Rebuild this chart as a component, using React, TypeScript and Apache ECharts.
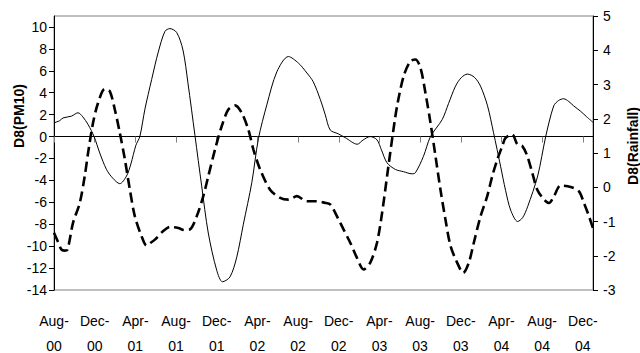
import React, { useEffect, useRef } from 'react';
import * as echarts from 'echarts';

// Month index 0 = Aug-00 ... 53 = Jan-05
const months = [
  'Aug-00', 'Sep-00', 'Oct-00', 'Nov-00', 'Dec-00',
  'Jan-01', 'Feb-01', 'Mar-01', 'Apr-01', 'May-01', 'Jun-01', 'Jul-01', 'Aug-01', 'Sep-01', 'Oct-01', 'Nov-01', 'Dec-01',
  'Jan-02', 'Feb-02', 'Mar-02', 'Apr-02', 'May-02', 'Jun-02', 'Jul-02', 'Aug-02', 'Sep-02', 'Oct-02', 'Nov-02', 'Dec-02',
  'Jan-03', 'Feb-03', 'Mar-03', 'Apr-03', 'May-03', 'Jun-03', 'Jul-03', 'Aug-03', 'Sep-03', 'Oct-03', 'Nov-03', 'Dec-03',
  'Jan-04', 'Feb-04', 'Mar-04', 'Apr-04', 'May-04', 'Jun-04', 'Jul-04', 'Aug-04', 'Sep-04', 'Oct-04', 'Nov-04', 'Dec-04',
  'Jan-05',
];
const labelMonths = [0, 4, 8, 12, 16, 20, 24, 28, 32, 36, 40, 44, 48, 52];

// D8(PM10), left axis: [month index, value]
const pm10 = [
  [0, 1.25], [0.56, 1.45], [0.89, 1.7], [1.71, 1.86], [2.36, 2.17], [2.83, 1.8], [3.35, 1.1], [3.94, 0],
  [4.5, -1.5], [5.16, -3.0], [5.78, -3.8], [6.47, -4.3], [7.13, -3.6], [7.56, -2.5], [8.05, -0.8], [8.44, 0],
  [8.94, 2.5], [9.6, 5.2], [10.25, 7.7], [10.91, 9.6], [11.4, 9.85], [12.06, 9.5], [12.68, 7.9], [13.17, 4.9],
  [13.86, 0.1], [14.52, -4.5], [15.17, -8.8], [16.0, -12.2], [16.57, -13.25], [17.31, -12.8], [17.97, -11.0],
  [18.62, -8.0], [19.45, -4.2], [20.1, -0.2], [20.93, 2.9], [21.91, 5.9], [23.05, 7.3], [24.04, 6.7],
  [24.87, 5.8], [25.49, 5.0], [26.18, 3.4], [26.67, 2.0], [27.16, 0.6], [27.95, 0.25], [28.64, -0.1],
  [29.82, -0.7], [30.41, -0.3], [31.1, 0], [31.76, -0.3], [32.19, -1.2], [32.75, -2.4], [33.57, -3.0],
  [34.35, -3.2], [35.21, -3.4], [35.54, -3.3], [36.33, -1.8], [37.02, 0], [38.17, 1.55], [38.79, 3.0],
  [39.48, 4.6], [40.07, 5.4], [40.66, 5.7], [41.35, 5.4], [41.94, 4.6], [42.63, 2.8], [43.22, 0.35],
  [43.91, -2.7], [44.4, -4.9], [44.9, -6.7], [45.59, -7.75], [46.08, -7.4], [46.57, -6.4], [47.56, -3.6],
  [48.35, 0], [49.14, 2.8], [49.63, 3.3], [50.12, 3.45], [50.62, 3.2], [51.1, 2.8], [51.79, 2.3],
  [52.38, 1.8], [53, 1.3],
];

// D8(Rainfall), right axis: [month index, value]
const rain = [
  [0, -1.33], [0.4, -1.6], [0.73, -1.82], [1.0, -1.85], [1.32, -1.82], [1.87, -1.04], [2.53, -0.46],
  [3.02, 0.32], [3.35, 1.0], [3.84, 1.88], [4.33, 2.46], [5.0, 2.87], [5.49, 2.8], [5.98, 2.27],
  [6.47, 1.59], [6.97, 0.81], [7.46, -0.07], [7.95, -0.85], [8.61, -1.43], [9.1, -1.7], [9.5, -1.62],
  [9.92, -1.53], [10.74, -1.28], [11.4, -1.16], [12.22, -1.19], [12.8, -1.25], [13.37, -1.23],
  [14.03, -0.85], [14.68, -0.26], [15.17, 0.32], [15.83, 1.1], [16.49, 1.78], [17.14, 2.27], [17.8, 2.39],
  [18.46, 2.17], [19.11, 1.68], [19.61, 1.1], [20.27, 0.52], [21.25, -0.07], [22.24, -0.31], [23.05, -0.36],
  [23.88, -0.26], [24.87, -0.41], [25.85, -0.41], [26.6, -0.45], [27.16, -0.5], [27.98, -0.94],
  [28.47, -1.23], [29.13, -1.62], [29.79, -2.06], [30.44, -2.4], [31.1, -2.2], [31.76, -1.62],
  [32.26, -0.75], [32.75, 0.32], [33.24, 1.39], [33.73, 2.36], [34.38, 3.24], [35.04, 3.68], [35.54, 3.73],
  [36.03, 3.49], [36.52, 2.76], [37.02, 1.88], [37.51, 0.91], [38.0, -0.07], [38.49, -0.94], [38.98, -1.7],
  [39.64, -2.2], [40.24, -2.5], [40.79, -2.2], [41.28, -1.62], [41.94, -0.85], [42.6, -0.26], [43.09, 0.32],
  [43.59, 0.81], [44.08, 1.2], [44.4, 1.44], [45.06, 1.54], [45.56, 1.25], [46.05, 1.2], [46.54, 0.91],
  [47.03, 0.42], [47.52, -0.07], [48.18, -0.36], [48.67, -0.46], [49.16, -0.26], [49.82, 0.05],
  [50.8, 0.01], [51.62, -0.12], [52.11, -0.46], [52.61, -0.85], [53, -1.2],
];

const leftTicks = [-14, -12, -10, -8, -6, -4, -2, 0, 2, 4, 6, 8, 10];

const FONT = 'Liberation Sans, Arial, sans-serif';

const monthLabel = (v: number) => {
  if (v % 4 !== 0 || v > 52) return '';
  const m = months[v];
  return m ? m.replace('-', '-\n') : '';
};

export default function App() {
  const ref = useRef<HTMLDivElement>(null);

  useEffect(() => {
    if (!ref.current) return;
    const chart = echarts.init(ref.current, undefined, { renderer: 'svg' });
    chart.setOption({
      animation: false,
      backgroundColor: '#ffffff',
      textStyle: { fontFamily: FONT },
      grid: {
        left: 54,
        right: 47,
        top: 16,
        bottom: 63,
        containLabel: false,
        outerBoundsMode: 'none',
        show: true,
        borderColor: '#808080',
        borderWidth: 1,
        backgroundColor: 'transparent',
      },
      xAxis: [
        {
          type: 'value',
          min: 0,
          max: 53,
          interval: 4,
          position: 'bottom',
          axisLine: { show: false, onZero: false },
          axisTick: { show: false },
          splitLine: { show: false },
          axisLabel: {
            customValues: labelMonths,
            formatter: monthLabel,
            fontSize: 14,
            lineHeight: 25,
            margin: 18,
            color: '#000',
            fontFamily: FONT,
            showMinLabel: true,
            showMaxLabel: true,
          },
        },
        {
          type: 'value',
          min: 0,
          max: 53,
          interval: 4,
          position: 'bottom',
          axisLine: {
            show: true,
            onZero: true,
            onZeroAxisIndex: 0,
            lineStyle: { color: '#000', width: 1 },
          },
          axisTick: {
            show: true,
            customValues: labelMonths,
            length: 6,
            lineStyle: { color: '#808080' },
          },
          axisLabel: { show: false },
          splitLine: { show: false },
        },
      ],
      yAxis: [
        {
          type: 'value',
          position: 'left',
          min: -14,
          max: 11,
          interval: 2,
          axisLine: { show: true, onZero: false, lineStyle: { color: '#000', width: 1 } },
          axisTick: { show: true, length: 5, lineStyle: { color: '#000' }, customValues: leftTicks },
          splitLine: { show: false },
          axisLabel: {
            customValues: leftTicks,
            formatter: (v: number) => (v > 10 ? '' : String(v)),
            fontSize: 14,
            margin: 7,
            color: '#000',
            fontFamily: FONT,
          },
        },
        {
          type: 'value',
          position: 'right',
          min: -3,
          max: 5,
          interval: 1,
          axisLine: { show: true, onZero: false, lineStyle: { color: '#000', width: 1 } },
          axisTick: { show: true, length: 5, lineStyle: { color: '#000' } },
          splitLine: { show: false },
          axisLabel: {
            fontSize: 14,
            margin: 10,
            color: '#000',
            fontFamily: FONT,
          },
        },
      ],
      series: [
        {
          name: 'D8(PM10)',
          type: 'line',
          xAxisIndex: 0,
          yAxisIndex: 0,
          data: pm10,
          smooth: 0.3,
          showSymbol: false,
          symbol: 'none',
          lineStyle: { color: '#000', width: 1 },
          z: 3,
        },
        {
          name: 'D8(Rainfall)',
          type: 'line',
          xAxisIndex: 0,
          yAxisIndex: 1,
          data: rain,
          smooth: 0.3,
          showSymbol: false,
          symbol: 'none',
          lineStyle: { color: '#000', width: 2.6, type: [10, 5] },
          z: 4,
        },
      ],
      graphic: [
        {
          type: 'text',
          x: 19,
          y: 116,
          rotation: Math.PI / 2,
          style: {
            text: 'D8(PM10)',
            fontSize: 14,
            fontWeight: 'bold',
            fontFamily: FONT,
            fill: '#000',
            textAlign: 'center',
            textVerticalAlign: 'middle',
            verticalAlign: 'middle',
          },
        },
        {
          type: 'text',
          x: 633,
          y: 146,
          rotation: Math.PI / 2,
          style: {
            text: 'D8(Rainfall)',
            fontSize: 14,
            fontWeight: 'bold',
            fontFamily: FONT,
            fill: '#000',
            textAlign: 'center',
            textVerticalAlign: 'middle',
            verticalAlign: 'middle',
          },
        },
      ],
    });
    return () => chart.dispose();
  }, []);

  return (
    <div
      ref={ref}
      style={{ position: 'fixed', left: 0, top: 0, width: 640, height: 353 }}
    />
  );
}
